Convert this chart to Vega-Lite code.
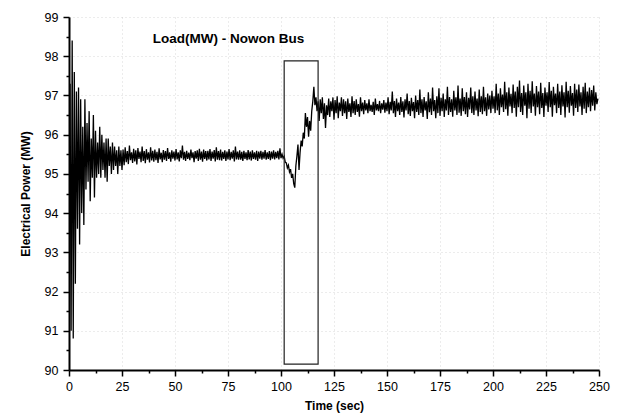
{
  "$schema": "https://vega.github.io/schema/vega-lite/v6.json",
  "autosize": "none",
  "width": 530,
  "height": 353,
  "padding": {"left": 69, "top": 17, "right": 28, "bottom": 50},
  "background": "white",
  "config": {
    "view": {"stroke": null},
    "font": "Liberation Sans",
    "axis": {"labelFont": "Liberation Sans", "titleFont": "Liberation Sans", "labelColor": "black", "titleColor": "black", "domainColor": "black", "tickColor": "black"}
  },
  "datasets": {
    "sig": [
      {"t":0,"p":95.5},{"t":0.5,"p":97.3},{"t":1,"p":91.0},{"t":1.5,"p":98.4},{"t":2,"p":90.8},{"t":2.5,"p":97.6},{"t":3,"p":92.2},{"t":3.5,"p":97.1},{"t":4,"p":93.6},{"t":4.5,"p":97.2},
      {"t":5,"p":93.2},{"t":5.5,"p":96.9},{"t":6,"p":94.0},{"t":6.5,"p":96.2},{"t":7,"p":93.7},{"t":7.5,"p":96.9},{"t":8,"p":94.6},{"t":8.5,"p":96.3},{"t":9,"p":94.8},{"t":9.5,"p":96.6},
      {"t":10,"p":94.3},{"t":10.5,"p":95.9},{"t":11,"p":94.9},{"t":11.5,"p":96.5},{"t":12,"p":94.4},{"t":12.5,"p":96.1},{"t":13,"p":94.9},{"t":13.5,"p":95.8},{"t":14,"p":95.0},{"t":14.5,"p":96.2},
      {"t":15,"p":94.9},{"t":15.5,"p":96.0},{"t":16,"p":95.1},{"t":16.5,"p":95.8},{"t":17,"p":94.9},{"t":17.5,"p":95.9},{"t":18,"p":94.8},{"t":18.5,"p":95.9},{"t":19,"p":95.2},{"t":19.5,"p":95.7},
      {"t":20,"p":95.0},{"t":20.5,"p":95.8},{"t":21,"p":95.1},{"t":21.5,"p":95.7},{"t":22,"p":95.2},{"t":22.5,"p":95.6},{"t":23,"p":95.0},{"t":23.5,"p":95.7},{"t":24,"p":95.2},{"t":24.5,"p":95.6},
      {"t":25,"p":95.1},
      {"t":25.5,"p":95.62},{"t":26,"p":95.22},{"t":26.5,"p":95.68},{"t":27,"p":95.30},{"t":27.5,"p":95.58},{"t":28,"p":95.25},{"t":28.5,"p":95.72},{"t":29,"p":95.35},{"t":29.5,"p":95.55},{"t":30,"p":95.28},
      {"t":30.5,"p":95.64},{"t":31,"p":95.32},{"t":31.5,"p":95.60},{"t":32,"p":95.24},{"t":32.5,"p":95.66},{"t":33,"p":95.38},{"t":33.5,"p":95.57},{"t":34,"p":95.30},{"t":34.5,"p":95.70},{"t":35,"p":95.33},
      {"t":35.5,"p":95.58},{"t":36,"p":95.27},{"t":36.5,"p":95.63},{"t":37,"p":95.36},{"t":37.5,"p":95.55},{"t":38,"p":95.29},{"t":38.5,"p":95.68},{"t":39,"p":95.34},{"t":39.5,"p":95.59},{"t":40,"p":95.31},
      {"t":40.5,"p":95.62},{"t":41,"p":95.35},{"t":41.5,"p":95.56},{"t":42,"p":95.28},{"t":42.5,"p":95.65},{"t":43,"p":95.37},{"t":43.5,"p":95.54},{"t":44,"p":95.30},{"t":44.5,"p":95.61},{"t":45,"p":95.36},
      {"t":45.5,"p":95.58},{"t":46,"p":95.33},{"t":46.5,"p":95.66},{"t":47,"p":95.38},{"t":47.5,"p":95.55},{"t":48,"p":95.31},{"t":48.5,"p":95.60},{"t":49,"p":95.39},{"t":49.5,"p":95.57},{"t":50,"p":95.34},
      {"t":50.5,"p":95.63},{"t":51,"p":95.37},{"t":51.5,"p":95.55},{"t":52,"p":95.32},{"t":52.5,"p":95.60},{"t":53,"p":95.40},{"t":53.5,"p":95.72},{"t":54,"p":95.36},{"t":54.5,"p":95.56},{"t":55,"p":95.33},
      {"t":55.5,"p":95.59},{"t":56,"p":95.38},{"t":56.5,"p":95.54},{"t":57,"p":95.35},{"t":57.5,"p":95.62},{"t":58,"p":95.40},{"t":58.5,"p":95.55},{"t":59,"p":95.30},{"t":59.5,"p":95.58},{"t":60,"p":95.39},
      {"t":60.5,"p":95.60},{"t":61,"p":95.33},{"t":61.5,"p":95.64},{"t":62,"p":95.36},{"t":62.5,"p":95.57},{"t":63,"p":95.31},{"t":63.5,"p":95.62},{"t":64,"p":95.38},{"t":64.5,"p":95.58},{"t":65,"p":95.34},
      {"t":65.5,"p":95.59},{"t":66,"p":95.37},{"t":66.5,"p":95.63},{"t":67,"p":95.33},{"t":67.5,"p":95.57},{"t":68,"p":95.39},{"t":68.5,"p":95.61},{"t":69,"p":95.32},{"t":69.5,"p":95.68},{"t":70,"p":95.36},
      {"t":70.5,"p":95.58},{"t":71,"p":95.35},{"t":71.5,"p":95.62},{"t":72,"p":95.34},{"t":72.5,"p":95.56},{"t":73,"p":95.38},{"t":73.5,"p":95.60},{"t":74,"p":95.33},{"t":74.5,"p":95.57},{"t":75,"p":95.37},
      {"t":75.5,"p":95.63},{"t":76,"p":95.35},{"t":76.5,"p":95.56},{"t":77,"p":95.39},{"t":77.5,"p":95.60},{"t":78,"p":95.32},{"t":78.5,"p":95.70},{"t":79,"p":95.37},{"t":79.5,"p":95.57},{"t":80,"p":95.36},
      {"t":80.5,"p":95.60},{"t":81,"p":95.36},{"t":81.5,"p":95.56},{"t":82,"p":95.33},{"t":82.5,"p":95.59},{"t":83,"p":95.38},{"t":83.5,"p":95.55},{"t":84,"p":95.35},{"t":84.5,"p":95.61},{"t":85,"p":95.37},
      {"t":85.5,"p":95.57},{"t":86,"p":95.34},{"t":86.5,"p":95.60},{"t":87,"p":95.38},{"t":87.5,"p":95.55},{"t":88,"p":95.36},{"t":88.5,"p":95.59},{"t":89,"p":95.33},{"t":89.5,"p":95.57},{"t":90,"p":95.39},
      {"t":90.5,"p":95.59},{"t":91,"p":95.36},{"t":91.5,"p":95.56},{"t":92,"p":95.39},{"t":92.5,"p":95.61},{"t":93,"p":95.36},{"t":93.5,"p":95.55},{"t":94,"p":95.38},{"t":94.5,"p":95.58},{"t":95,"p":95.35},
      {"t":95.5,"p":95.57},{"t":96,"p":95.39},{"t":96.5,"p":95.60},{"t":97,"p":95.37},{"t":97.5,"p":95.56},{"t":98,"p":95.40},{"t":98.5,"p":95.59},{"t":99,"p":95.37},{"t":99.5,"p":95.65},{"t":100,"p":95.40},
      {"t":100.5,"p":95.50},{"t":101,"p":95.40},{"t":101.5,"p":95.45},{"t":102,"p":95.30},{"t":102.5,"p":95.28},{"t":103,"p":95.15},{"t":103.5,"p":95.22},{"t":104,"p":95.05},{"t":104.5,"p":95.12},{"t":105,"p":94.90},
      {"t":105.5,"p":95.00},{"t":106,"p":94.75},{"t":106.5,"p":94.65},{"t":107,"p":95.20},{"t":107.5,"p":95.45},{"t":108,"p":95.75},{"t":108.5,"p":95.10},{"t":109,"p":95.55},{"t":109.5,"p":95.85},{"t":110,"p":95.70},
      {"t":110.5,"p":96.05},{"t":111,"p":95.90},{"t":111.5,"p":96.55},{"t":112,"p":96.20},{"t":112.5,"p":96.45},{"t":113,"p":95.95},{"t":113.5,"p":96.35},{"t":114,"p":96.10},{"t":114.5,"p":96.60},{"t":115,"p":96.85},
      {"t":115.5,"p":97.22},{"t":116,"p":96.75},{"t":116.5,"p":96.95},{"t":117,"p":96.60},
      {"t":117.5,"p":96.85},{"t":118,"p":96.35},{"t":118.5,"p":96.90},{"t":119,"p":96.55},{"t":119.5,"p":96.95},{"t":120,"p":96.40},
      {"t":120.5,"p":96.80},{"t":121,"p":96.17},{"t":121.5,"p":96.75},{"t":122,"p":96.50},{"t":122.5,"p":96.92},{"t":123,"p":96.45},{"t":123.5,"p":96.85},{"t":124,"p":96.60},{"t":124.5,"p":96.95},{"t":125,"p":96.38},
      {"t":125.5,"p":96.88},{"t":126,"p":96.55},{"t":126.5,"p":96.98},{"t":127,"p":96.42},{"t":127.5,"p":96.82},{"t":128,"p":96.60},{"t":128.5,"p":96.95},{"t":129,"p":96.48},{"t":129.5,"p":96.90},{"t":130,"p":96.55},
      {"t":130.5,"p":96.85},{"t":131,"p":96.40},{"t":131.5,"p":96.92},{"t":132,"p":96.58},{"t":132.5,"p":96.80},{"t":133,"p":96.45},{"t":133.5,"p":96.98},{"t":134,"p":96.55},{"t":134.5,"p":96.86},{"t":135,"p":96.50},
      {"t":135.5,"p":96.90},{"t":136,"p":96.58},{"t":136.5,"p":96.78},{"t":137,"p":96.46},{"t":137.5,"p":96.95},{"t":138,"p":96.60},{"t":138.5,"p":96.82},{"t":139,"p":96.52},{"t":139.5,"p":96.88},{"t":140,"p":96.62},
      {"t":140.5,"p":96.80},{"t":141,"p":96.55},{"t":141.5,"p":96.90},{"t":142,"p":96.60},{"t":142.5,"p":96.76},{"t":143,"p":96.58},{"t":143.5,"p":96.84},{"t":144,"p":96.50},{"t":144.5,"p":96.92},{"t":145,"p":96.62},
      {"t":145.5,"p":96.78},{"t":146,"p":96.60},{"t":146.5,"p":96.86},{"t":147,"p":96.55},{"t":147.5,"p":96.80},{"t":148,"p":96.64},{"t":148.5,"p":96.88},{"t":149,"p":96.56},{"t":149.5,"p":96.82},{"t":150,"p":96.60},
      {"t":150.5,"p":96.95},{"t":151,"p":96.52},{"t":151.5,"p":96.84},{"t":152,"p":96.62},{"t":152.5,"p":97.10},{"t":153,"p":96.55},{"t":153.5,"p":96.86},{"t":154,"p":96.45},{"t":154.5,"p":96.92},{"t":155,"p":96.60},
      {"t":155.5,"p":96.82},{"t":156,"p":96.50},{"t":156.5,"p":96.96},{"t":157,"p":96.58},{"t":157.5,"p":96.85},{"t":158,"p":96.44},{"t":158.5,"p":96.90},{"t":159,"p":96.62},{"t":159.5,"p":97.05},{"t":160,"p":96.52},
      {"t":160.5,"p":96.86},{"t":161,"p":96.48},{"t":161.5,"p":96.94},{"t":162,"p":96.60},{"t":162.5,"p":96.83},{"t":163,"p":96.42},{"t":163.5,"p":97.00},{"t":164,"p":96.58},{"t":164.5,"p":96.88},{"t":165,"p":96.50},
      {"t":165.5,"p":97.15},{"t":166,"p":96.55},{"t":166.5,"p":96.90},{"t":167,"p":96.45},{"t":167.5,"p":96.96},{"t":168,"p":96.62},{"t":168.5,"p":96.85},{"t":169,"p":96.40},{"t":169.5,"p":97.08},{"t":170,"p":96.57},
      {"t":170.5,"p":96.92},{"t":171,"p":96.50},{"t":171.5,"p":97.20},{"t":172,"p":96.60},{"t":172.5,"p":96.88},{"t":173,"p":96.42},{"t":173.5,"p":96.98},{"t":174,"p":96.55},{"t":174.5,"p":97.18},{"t":175,"p":96.48},
      {"t":175.5,"p":96.94},{"t":176,"p":96.60},{"t":176.5,"p":97.05},{"t":177,"p":96.45},{"t":177.5,"p":96.90},{"t":178,"p":96.62},{"t":178.5,"p":97.22},{"t":179,"p":96.50},{"t":179.5,"p":96.96},{"t":180,"p":96.58},
      {"t":180.5,"p":96.90},{"t":181,"p":96.46},{"t":181.5,"p":97.12},{"t":182,"p":96.62},{"t":182.5,"p":96.95},{"t":183,"p":96.50},{"t":183.5,"p":97.25},{"t":184,"p":96.56},{"t":184.5,"p":96.92},{"t":185,"p":96.48},
      {"t":185.5,"p":97.18},{"t":186,"p":96.60},{"t":186.5,"p":96.96},{"t":187,"p":96.52},{"t":187.5,"p":97.08},{"t":188,"p":96.45},{"t":188.5,"p":96.94},{"t":189,"p":96.64},{"t":189.5,"p":97.20},{"t":190,"p":96.55},
      {"t":190.5,"p":96.98},{"t":191,"p":96.50},{"t":191.5,"p":97.10},{"t":192,"p":96.62},{"t":192.5,"p":96.92},{"t":193,"p":96.47},{"t":193.5,"p":97.15},{"t":194,"p":96.58},{"t":194.5,"p":96.98},{"t":195,"p":96.52},
      {"t":195.5,"p":97.22},{"t":196,"p":96.60},{"t":196.5,"p":96.95},{"t":197,"p":96.48},{"t":197.5,"p":97.05},{"t":198,"p":96.64},{"t":198.5,"p":97.00},{"t":199,"p":96.55},{"t":199.5,"p":97.12},{"t":200,"p":96.66},
      {"t":200.5,"p":96.98},{"t":201,"p":96.55},{"t":201.5,"p":97.30},{"t":202,"p":96.62},{"t":202.5,"p":97.05},{"t":203,"p":96.50},{"t":203.5,"p":97.18},{"t":204,"p":96.70},{"t":204.5,"p":97.02},{"t":205,"p":96.58},
      {"t":205.5,"p":97.35},{"t":206,"p":96.65},{"t":206.5,"p":97.08},{"t":207,"p":96.48},{"t":207.5,"p":97.20},{"t":208,"p":96.72},{"t":208.5,"p":97.04},{"t":209,"p":96.55},{"t":209.5,"p":97.28},{"t":210,"p":96.68},
      {"t":210.5,"p":97.10},{"t":211,"p":96.46},{"t":211.5,"p":97.22},{"t":212,"p":96.70},{"t":212.5,"p":97.38},{"t":213,"p":96.58},{"t":213.5,"p":97.06},{"t":214,"p":96.50},{"t":214.5,"p":97.25},{"t":215,"p":96.74},
      {"t":215.5,"p":97.08},{"t":216,"p":96.42},{"t":216.5,"p":97.30},{"t":217,"p":96.66},{"t":217.5,"p":97.12},{"t":218,"p":96.55},{"t":218.5,"p":97.36},{"t":219,"p":96.72},{"t":219.5,"p":97.05},{"t":220,"p":96.48},
      {"t":220.5,"p":97.24},{"t":221,"p":96.70},{"t":221.5,"p":97.10},{"t":222,"p":96.52},{"t":222.5,"p":97.32},{"t":223,"p":96.68},{"t":223.5,"p":97.06},{"t":224,"p":96.45},{"t":224.5,"p":97.20},{"t":225,"p":96.74},
      {"t":225.5,"p":97.08},{"t":226,"p":96.58},{"t":226.5,"p":97.34},{"t":227,"p":96.70},{"t":227.5,"p":97.12},{"t":228,"p":96.46},{"t":228.5,"p":97.22},{"t":229,"p":96.75},{"t":229.5,"p":97.05},{"t":230,"p":96.55},
      {"t":230.5,"p":97.30},{"t":231,"p":96.68},{"t":231.5,"p":97.10},{"t":232,"p":96.50},{"t":232.5,"p":97.26},{"t":233,"p":96.72},{"t":233.5,"p":97.08},{"t":234,"p":96.44},{"t":234.5,"p":97.35},{"t":235,"p":96.70},
      {"t":235.5,"p":97.12},{"t":236,"p":96.56},{"t":236.5,"p":97.24},{"t":237,"p":96.74},{"t":237.5,"p":97.06},{"t":238,"p":96.48},{"t":238.5,"p":97.30},{"t":239,"p":96.68},{"t":239.5,"p":97.15},{"t":240,"p":96.58},
      {"t":240.5,"p":97.28},{"t":241,"p":96.72},{"t":241.5,"p":97.08},{"t":242,"p":96.50},{"t":242.5,"p":97.22},{"t":243,"p":96.66},{"t":243.5,"p":97.32},{"t":244,"p":96.55},{"t":244.5,"p":97.10},{"t":245,"p":96.70},
      {"t":245.5,"p":97.20},{"t":246,"p":96.60},{"t":246.5,"p":97.14},{"t":247,"p":96.74},{"t":247.5,"p":97.25},{"t":248,"p":96.62},{"t":248.5,"p":97.08},{"t":249,"p":96.78},{"t":249.5,"p":96.92}
    ],
    "box": [{"t1": 101.5, "t2": 117.5, "p1": 90.15, "p2": 97.88}],
    "label": [{"t": 39.5, "p": 98.34, "txt": "Load(MW) - Nowon Bus"}]
  },
  "layer": [
    {
      "data": {"name": "sig"},
      "mark": {"type": "line", "color": "black", "strokeWidth": 1.3, "clip": true},
      "encoding": {
        "x": {"field": "t", "type": "quantitative", "scale": {"domain": [0, 250], "nice": false, "zero": false},
          "axis": {"orient": "bottom", "values": [0,25,50,75,100,125,150,175,200,225,250], "title": "Time (sec)", "titleFontSize": 12, "titleFontWeight": "bold", "titlePadding": 8,
            "labelFontSize": 12.5, "labelPadding": 4, "tickSize": 6, "tickWidth": 1.5, "domainWidth": 2, "labelFlush": false,
            "grid": true, "gridColor": "#aaaaaa", "gridDash": [1, 3], "gridOpacity": 0.45}},
        "y": {"field": "p", "type": "quantitative", "scale": {"domain": [90, 99], "nice": false, "zero": false},
          "axis": {"orient": "left", "values": [90,91,92,93,94,95,96,97,98,99], "title": "Electrical Power (MW)", "titleFontSize": 12, "titleFontWeight": "bold", "titlePadding": 12,
            "labelFontSize": 12.5, "labelPadding": 5, "tickSize": 6, "tickWidth": 1.5, "domainWidth": 2,
            "grid": true, "gridColor": "#aaaaaa", "gridDash": [1, 3], "gridOpacity": 0.45}}
      }
    },
    {
      "data": {"name": "box"},
      "mark": {"type": "rect", "fill": null, "fillOpacity": 0, "stroke": "#222222", "strokeWidth": 1.2},
      "encoding": {
        "x": {"field": "t1", "type": "quantitative", "axis": {"orient": "bottom", "values": [12.5,37.5,62.5,87.5,112.5,137.5,162.5,187.5,212.5,237.5], "labels": false, "title": null, "domain": false, "grid": false, "tickSize": 3, "tickWidth": 1.5}},
        "x2": {"field": "t2"},
        "y": {"field": "p1", "type": "quantitative", "axis": {"orient": "left", "values": [90.5,91.5,92.5,93.5,94.5,95.5,96.5,97.5,98.5], "labels": false, "title": null, "domain": false, "grid": false, "tickSize": 3, "tickWidth": 1.5}},
        "y2": {"field": "p2"}
      }
    },
    {
      "data": {"name": "label"},
      "mark": {"type": "text", "align": "left", "baseline": "alphabetic", "font": "Liberation Sans", "fontSize": 13.5, "fontWeight": "bold", "color": "black"},
      "encoding": {
        "x": {"field": "t", "type": "quantitative", "axis": null},
        "y": {"field": "p", "type": "quantitative", "axis": null},
        "text": {"field": "txt"}
      }
    }
  ],
  "resolve": {"axis": {"x": "independent", "y": "independent"}}
}
